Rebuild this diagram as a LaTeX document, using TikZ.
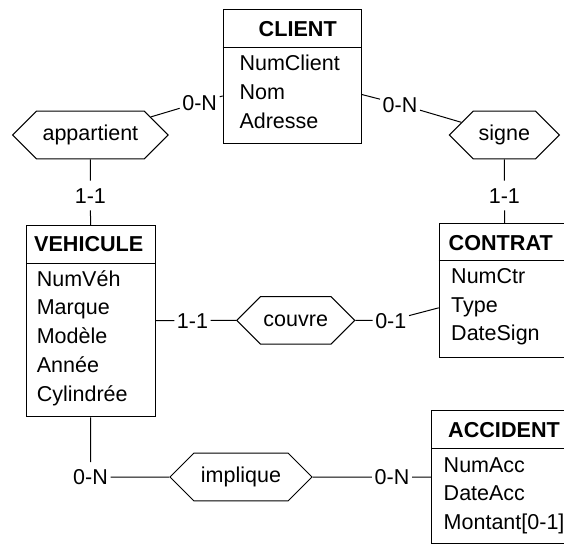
\documentclass[tikz,border=0pt]{standalone}
\usepackage{fontspec}
\setmainfont{Liberation Sans}
\usetikzlibrary{shapes.symbols}

\tikzset{
  entity/.style={draw, line width=1pt, inner sep=0pt, anchor=north west},
  enttitle/.style={anchor=base, font=\fontsize{21.6}{26}\selectfont\bfseries},
  attr/.style={anchor=base west},
  relation/.style={draw, line width=1pt, shape=signal, signal to=east and west,
    signal pointer angle=90, minimum height=47.6pt, inner sep=0pt},
  card/.style={fill=white, inner xsep=2.5pt, inner ysep=7pt, text height=15.5pt, text depth=0pt},
  link/.style={line width=1pt},
}

\begin{document}
\begin{tikzpicture}[x=1pt, y=-1pt, font=\fontsize{21.5}{26}\selectfont]
        \path[use as bounding box, clip] (0,0) rectangle (564,545);

        % entites
        \node[entity, minimum width=138.3pt, minimum height=134pt] (client) at (222.7,9.3) {};
        \draw[link] ([yshift=-38.4pt]client.north west) -- ([yshift=-38.4pt]client.north east);
        \node[enttitle] (client-title) at ([xshift=75pt, yshift=-27.5pt]client.north west) {CLIENT};
        \foreach \a [count=\i] in {NumClient,Nom,Adresse}
            \node[attr] (client-\i) at ([xshift=13.3pt, yshift={-61.4pt-28.8pt*(\i-1)}]client.north west) {\a};

        \node[entity, minimum width=129pt, minimum height=191.3pt] (vehicule) at (26,225) {};
        \draw[link] ([yshift=-38.3pt]vehicule.north west) -- ([yshift=-38.3pt]vehicule.north east);
        \node[enttitle] (vehicule-title) at ([xshift=62.7pt, yshift=-26.7pt]vehicule.north west) {VEHICULE};
        \foreach \a [count=\i] in {NumVéh,Marque,Modèle,Année,Cylindrée}
            \node[attr] (vehicule-\i) at ([xshift=7.3pt, yshift={-61pt-28.8pt*(\i-1)}]vehicule.north west) {\a};

        \node[entity, minimum width=131.6pt, minimum height=134pt] (contrat) at (438.7,223) {};
        \draw[link] ([yshift=-37pt]contrat.north west) -- ([yshift=-37pt]contrat.north east);
        \node[enttitle] (contrat-title) at ([xshift=62pt, yshift=-27pt]contrat.north west) {CONTRAT};
        \foreach \a [count=\i] in {NumCtr,Type,DateSign}
            \node[attr] (contrat-\i) at ([xshift=9pt, yshift={-60.7pt-28.4pt*(\i-1)}]contrat.north west) {\a};

        \node[entity, minimum width=146pt, minimum height=132.4pt] (accident) at (431,410.3) {};
        \draw[link] ([yshift=-38.4pt]accident.north west) -- ([yshift=-38.4pt]accident.north east);
        \node[enttitle] (accident-title) at ([xshift=73pt, yshift=-26.7pt]accident.north west) {ACCIDENT};
        \foreach \a [count=\i] in {NumAcc,DateAcc,{Montant[0-1]}}
            \node[attr] (accident-\i) at ([xshift=9.2pt, yshift={-61.7pt-28.7pt*(\i-1)}]accident.north west) {\a};

        % associations
        \node[relation, minimum width=155.4pt] (appartient) at (90.4,135) {appartient};
        \node[relation, minimum width=110pt] (signe) at (504.4,135) {signe};
        \node[relation, minimum width=118pt] (couvre) at (295.7,320.4) {couvre};
        \node[relation, minimum width=142pt] (implique) at (241,477) {implique};

        % cardinalites
        \node[card] (app-client) at (199.7,102.3) {0-N};
        \node[card] (app-vehicule) at (90.4,195.5) {1-1};
        \node[card] (sig-client) at (400,104.3) {0-N};
        \node[card] (sig-contrat) at (504.4,195.5) {1-1};
        \node[card] (cou-vehicule) at (192.5,320.5) {1-1};
        \node[card] (cou-contrat) at (390.8,320.4) {0-1};
        \node[card] (imp-vehicule) at (90.5,477) {0-N};
        \node[card] (imp-accident) at (392,477) {0-N};

        \draw[link] (appartient) -- (app-client) -- (client);
        \draw[link] (appartient) -- (app-vehicule) -- (vehicule);
        \draw[link] (signe) -- (sig-client) -- (client);
        \draw[link] (signe) -- (sig-contrat) -- (contrat);
        \draw[link] (couvre) -- (cou-vehicule) -- (vehicule);
        \draw[link] (couvre) -- (cou-contrat) -- (contrat);
        \draw[link] (implique) -- (imp-vehicule) -- (vehicule);
        \draw[link] (implique) -- (imp-accident) -- (accident);
\end{tikzpicture}
\end{document}
